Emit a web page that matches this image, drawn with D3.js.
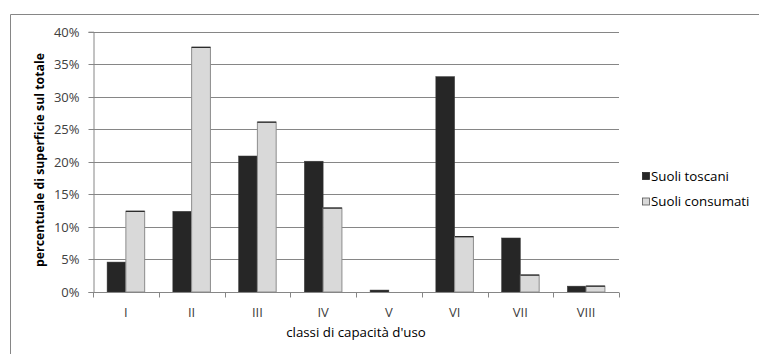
<!DOCTYPE html>
<html><head><meta charset="utf-8">
<script src="https://cdn.jsdelivr.net/npm/d3@7"></script>
<style>body{margin:0;background:#fff}svg{display:block}text{font-family:"Open Sans",sans-serif}</style>
</head><body>
<script>
const categories = ["I","II","III","IV","V","VI","VII","VIII"];
const seriesNames = ["Suoli toscani","Suoli consumati"];
const toscani = [4.6, 12.4, 20.9, 20.1, 0.3, 33.1, 8.3, 0.9];
const consumati = [12.4, 37.6, 26.1, 12.9, 0, 8.5, 2.6, 0.9];
const yTicks = [0,5,10,15,20,25,30,35,40];

const W=759,H=354;
const svg=d3.select("body").append("svg").attr("width",W).attr("height",H);
const colors=["#262626","#d9d9d9"];
const m={l:93,r:619,t:31.7,b:292};
const x=d3.scaleBand().domain(categories).range([m.l,m.r]);
const bw=x.bandwidth()/3.5;
const off=x.bandwidth()*0.75/3.5;
const y=d3.scaleLinear().domain([0,40]).range([m.b,m.t]);

// outer border
svg.append("path").attr("d",`M10.5,${H} V14.5 H${W}`).attr("fill","none").attr("stroke","#868686").attr("stroke-width",1);

// gridlines
svg.append("g").selectAll("line").data(yTicks.filter(d=>d>0)).join("line")
 .attr("x1",m.l).attr("x2",m.r).attr("y1",d=>Math.round(y(d))+0.5).attr("y2",d=>Math.round(y(d))+0.5)
 .attr("stroke","#868686");

// y axis
const ya=svg.append("g").attr("transform",`translate(${m.l+0.5},0)`)
 .call(d3.axisLeft(y).tickValues(yTicks).tickSize(5).tickPadding(9).tickFormat(d=>d+"%"));
ya.select(".domain").attr("stroke","#868686");
ya.selectAll(".tick line").attr("stroke","#868686");
ya.selectAll(".tick").attr("transform",d=>`translate(0,${Math.round(y(d))+0.5})`);
ya.selectAll("text").attr("font-size",13).attr("fill","#404040").attr("font-family","Open Sans, sans-serif");

// bars
const data=[toscani,consumati];
data.forEach((vals,si)=>{
  const g=svg.append("g");
  g.selectAll("rect").data(categories).join("rect")
   .attr("x",c=>x(c)+off+bw*si)
   .attr("y",(c,i)=>y(vals[i]))
   .attr("width",bw)
   .attr("height",(c,i)=>y(0)-y(vals[i]))
   .attr("fill",colors[si])
   .attr("stroke",si?"#8c8c8c":"#3a3a3a").attr("stroke-width",si?1:0.5);
  if(si===1){
    g.selectAll("line").data(categories).join("line")
     .attr("x1",c=>x(c)+off+bw).attr("x2",c=>x(c)+off+2*bw)
     .attr("y1",(c,i)=>y(vals[i])).attr("y2",(c,i)=>y(vals[i]))
     .attr("stroke",(c,i)=>vals[i]>0?"#222":"none").attr("stroke-width",1.2);
  }
});

// x axis
const xa=svg.append("g").attr("transform",`translate(0,${m.b+0.5})`);
xa.append("line").attr("x1",m.l).attr("x2",m.r).attr("stroke","#868686");
const bounds=categories.map(c=>x(c)).concat([m.r]);
xa.selectAll(".tk").data(bounds).join("line").attr("class","tk")
 .attr("x1",d=>Math.round(d)+0.5).attr("x2",d=>Math.round(d)+0.5).attr("y1",0).attr("y2",5).attr("stroke","#868686");
xa.selectAll("text").data(categories).join("text")
 .attr("x",c=>x(c)+x.bandwidth()/2).attr("y",24).attr("text-anchor","middle")
 .attr("font-size",13).attr("fill","#404040").text(c=>c);

// axis titles
svg.append("text").attr("x",(m.l+m.r)/2).attr("y",337).attr("text-anchor","middle")
 .attr("font-size",13.3).attr("fill","#000").text("classi di capacità d'uso");
svg.append("text").attr("transform","translate(44,160) rotate(-90)").attr("text-anchor","middle")
 .attr("font-size",12.3).attr("font-weight","bold").attr("fill","#000").text("percentuale di superficie sul totale");

// legend
const lg=svg.append("g");
seriesNames.forEach((n,i)=>{
  const cy=176+i*25.5;
  lg.append("rect").attr("x",642.5).attr("y",cy-3.5).attr("width",7).attr("height",7)
   .attr("fill",colors[i]).attr("stroke",i?"#555":"#262626").attr("stroke-width",0.8);
  lg.append("text").attr("x",651).attr("y",cy+4.5).attr("font-size",13.3).attr("fill","#000").text(n);
});
</script>
</body></html>
